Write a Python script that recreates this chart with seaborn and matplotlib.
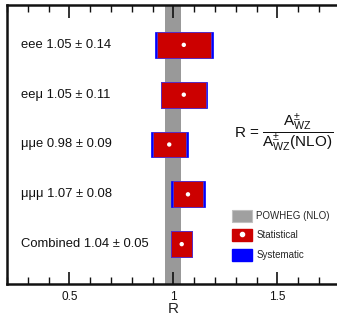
import matplotlib
matplotlib.use("Agg")
import matplotlib.pyplot as plt
import seaborn as sns
import pandas as pd
from matplotlib.patches import Patch
from matplotlib.lines import Line2D
from matplotlib.ticker import MultipleLocator

# ---- data ----
channels = ["eee", "eeμ", "μμe", "μμμ", "Combined"]
ratio = [1.05, 1.05, 0.98, 1.07, 1.04]
total_err = [0.14, 0.11, 0.09, 0.08, 0.05]
stat_err = [0.13, 0.108, 0.08, 0.07, 0.05]
powheg_lo, powheg_hi = 0.962, 1.038
x_ticks = [0.5, 1.0, 1.5]
x_tick_labels = ["0.5", "1", "1.5"]

sns.set_theme(style="ticks")
plt.rcParams["font.family"] = ["Liberation Sans", "DejaVu Sans"]
plt.rcParams["mathtext.fontset"] = "custom"
plt.rcParams["mathtext.rm"] = "Liberation Sans"
plt.rcParams["mathtext.it"] = "Liberation Sans"
plt.rcParams["mathtext.bf"] = "Liberation Sans:bold"
plt.rcParams["xtick.bottom"] = True
plt.rcParams["xtick.top"] = True
plt.rcParams["xtick.direction"] = "in"
plt.rcParams["axes.axisbelow"] = False

n = len(channels)
ypos = [n - i for i in range(n)]
df = pd.DataFrame({"channel": channels, "R": ratio, "tot": total_err,
                   "stat": stat_err, "y": ypos})

fig = plt.figure(figsize=(3.37, 3.20), dpi=100)
ax = fig.add_axes([7 / 337, 36 / 320, 332.8 / 337, 279 / 320])

ax.axvspan(powheg_lo, powheg_hi, color="#999999", zorder=1, lw=0)

h = 0.52
ax.barh(df["y"], 2 * df["tot"], left=df["R"] - df["tot"], height=h,
        color="#0000ff", edgecolor="#0000ff", lw=0.5, zorder=2)
ax.barh(df["y"], 2 * df["stat"], left=df["R"] - df["stat"], height=h,
        color="#cc0000", edgecolor="#5533cc", lw=0.6, zorder=3)
sns.scatterplot(data=df, x="R", y="y", color="white", s=10, edgecolor="none",
                zorder=4, ax=ax, legend=False)

for _, r in df.iterrows():
    ax.text(0.267, r["y"], f"{r['channel']} {r['R']:.2f} ± {r['tot']:.2f}",
            va="center", ha="left", fontsize=9.4, color="#111111", zorder=5)

ax.text(1.29, 3.26, r"R = $\dfrac{\mathrm{A}^{\pm}_{\mathrm{WZ}}}{\mathrm{A}^{\pm}_{\mathrm{WZ}}\mathrm{(NLO)}}$",
        fontsize=11, va="center", ha="left", color="#111111")

ax.set_xlim(0.2, 1.8)
ax.set_ylim(0.2, 5.8)
ax.set_xticks(x_ticks)
ax.set_xticklabels(x_tick_labels, fontsize=8.5)
ax.xaxis.set_minor_locator(MultipleLocator(0.1))
ax.set_yticks([])
ax.tick_params(axis="x", which="major", direction="in", length=9, width=1.2,
               top=True, bottom=True, pad=5, colors="#111111")
ax.tick_params(axis="x", which="minor", direction="in", length=5, width=1.0,
               top=True, bottom=True, colors="#111111")
ax.tick_params(axis="y", left=False, right=False)
ax.set_xlabel("R", fontsize=11, labelpad=-1)
ax.set_ylabel("")
for s in ax.spines.values():
    s.set_linewidth(1.8)
    s.set_color("#111111")
    s.set_visible(True)

handles = [
    Patch(facecolor="#a0a0a0", edgecolor="#c0c0c0", lw=0.8),
    (Patch(facecolor="#cc0000", edgecolor="#cc0000"),
     Line2D([], [], marker="o", color="white", ls="none", markersize=3)),
    Patch(facecolor="#0000ff", edgecolor="#0000ff"),
]
labels = ["POWHEG (NLO)", "Statistical", "Systematic"]
ax.legend(handles, labels, loc="upper left", bbox_to_anchor=(0.655, 0.29),
          frameon=False, fontsize=7, handlelength=2.1, handleheight=1.5,
          labelspacing=0.78, handletextpad=0.4, borderpad=0.2)

fig.savefig("out.png", dpi=100)
